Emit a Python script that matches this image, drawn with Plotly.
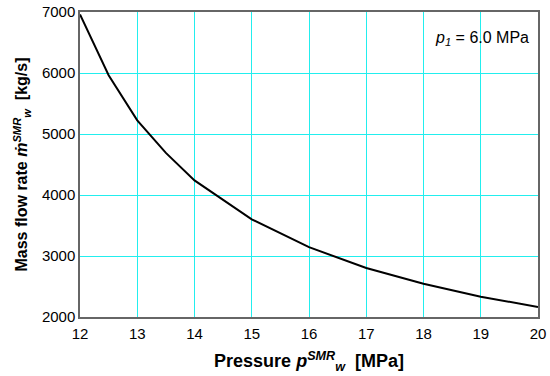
import plotly.graph_objects as go

pressure = [12, 12.5, 13, 13.5, 14, 15, 16, 17, 18, 19, 20]
mass_flow = [6960, 5964, 5224, 4690, 4240, 3602, 3145, 2803, 2546, 2333, 2164]

x_ticks = [12, 13, 14, 15, 16, 17, 18, 19, 20]
y_ticks = [2000, 3000, 4000, 5000, 6000, 7000]

fig = go.Figure()
fig.add_trace(go.Scatter(x=pressure, y=mass_flow, mode="lines",
                         line=dict(color="black", width=2), showlegend=False))

font = "Liberation Sans, Arial, sans-serif"
grid = "#22EEEE"
fig.update_layout(
    width=550, height=376,
    margin=dict(l=80, r=12, t=12, b=59, autoexpand=False),
    plot_bgcolor="white", paper_bgcolor="white",
    font=dict(family=font, size=14, color="black"),
    xaxis=dict(range=[12, 20], tickvals=x_ticks, showgrid=True, gridcolor=grid, gridwidth=1.3,
               showline=True, linecolor="#666666", linewidth=1.5, mirror=True, automargin=False,
               ticks="", zeroline=False, tickfont=dict(size=15), ticklabelstandoff=2,
               title=dict(text="<b>Pressure <i>p</i><sup><i>SMR</i></sup><sub><i>w</i></sub>  [MPa]</b>",
                          font=dict(size=18), standoff=14)),
    yaxis=dict(range=[2000, 7000], tickvals=y_ticks, showgrid=True, gridcolor=grid, gridwidth=1.3,
               showline=True, linecolor="#666666", linewidth=1.5, mirror=True, automargin=False,
               ticks="", zeroline=False, tickfont=dict(size=15), ticklabelstandoff=0,
               title=dict(text="<b>Mass flow rate <i>m\u0307</i><sup><i>SMR</i></sup><sub><i>w</i></sub>  [kg/s]</b>",
                          font=dict(size=16), standoff=10)),
    annotations=[dict(x=0.985, y=0.95, xref="paper", yref="paper", xanchor="right", yanchor="top",
                      text="<i>p</i><sub><i>1</i></sub> = 6.0 MPa", showarrow=False,
                      font=dict(size=16, family=font))],
)
fig.write_html("out.html", config={"displayModeBar": False},
               post_script="document.body.style.margin='0';")
